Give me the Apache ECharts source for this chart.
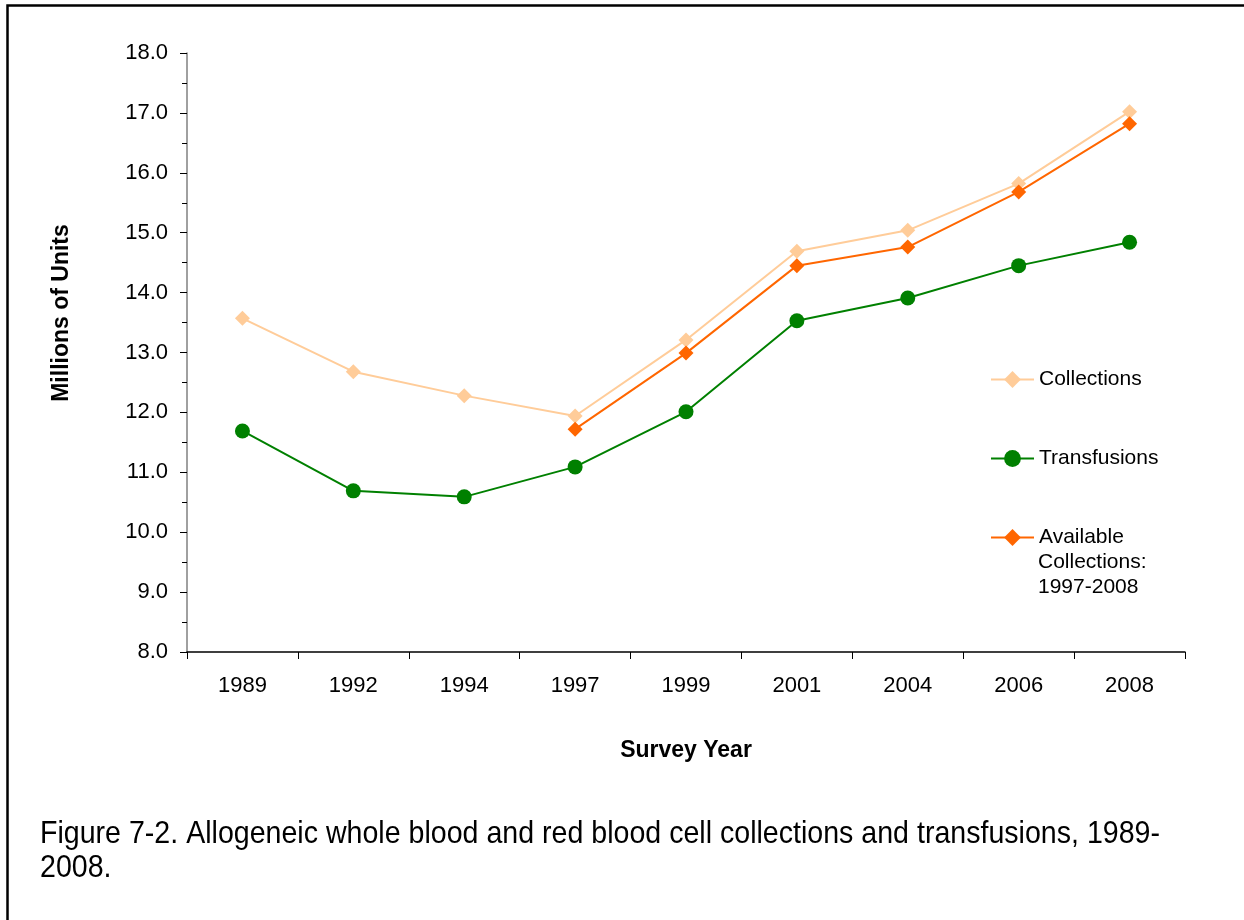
<!DOCTYPE html>
<html>
<head>
<meta charset="utf-8">
<script src="https://cdn.jsdelivr.net/npm/echarts@6/dist/echarts.min.js"></script>
<style>
  html, body { margin: 0; padding: 0; background: #fff; }
  #chart { width: 1244px; height: 920px; }
</style>
</head>
<body>
<div id="chart"></div>
<script>
// survey years and values (millions of units)
let years = ['1989', '1992', '1994', '1997', '1999', '2001', '2004', '2006', '2008'];
let collections = [13.57, 12.68, 12.28, 11.94, 13.21, 14.69, 15.04, 15.82, 17.02];
let transfusions = [11.69, 10.69, 10.59, 11.09, 12.01, 13.53, 13.91, 14.45, 14.84];
let available = [null, null, null, 11.72, 12.99, 14.45, 14.76, 15.68, 16.82];

let captionLines = ['Figure 7-2. Allogeneic whole blood and red blood cell collections and transfusions, 1989-', '2008.'];

let font = '"Liberation Sans", Arial, sans-serif';

// caption is a narrow face in the original: squeeze regular text to the same width
let capFont = '32px ' + font;
let ctx = document.createElement('canvas').getContext('2d');
ctx.font = capFont;
let capScale = 1120 / ctx.measureText(captionLines[0]).width;

let myChart = echarts.init(document.getElementById('chart'));

let legendBase = {
    orient: 'vertical',
    left: 990,
    padding: 0,
    itemWidth: 43,
    itemHeight: 21,
    textStyle: { fontFamily: font, fontSize: 21, color: '#000' },
    selectedMode: false
};

option = {
    animation: false,
    backgroundColor: '#fff',
    grid: { left: 187, right: 59, top: 53, bottom: 268 },
    legend: [
        Object.assign({}, legendBase, { top: 369, data: ['Collections'] }),
        Object.assign({}, legendBase, { top: 448, data: ['Transfusions'] }),
        Object.assign({}, legendBase, { top: 527, data: ['Available Collections: 1997-2008'], formatter: function () { return 'Available'; } })
    ],
    graphic: [
        {
            type: 'rect',
            left: 5, top: 3,
            shape: { width: 1300, height: 1000 },
            style: { fill: 'none', stroke: '#000', lineWidth: 2.5 },
            silent: true
        },
        {
            type: 'text',
            left: 1038, top: 550,
            style: { text: 'Collections:\n1997-2008', font: '21px ' + font, fill: '#000', lineHeight: 25 }
        },
        {
            // y axis title sits above the plot middle in the original
            type: 'text',
            x: 62, y: 313,
            rotation: Math.PI / 2,
            style: { text: 'Millions of Units', font: 'bold 23px ' + font, fill: '#000', align: 'center', verticalAlign: 'middle' }
        },
        {
            type: 'text',
            x: 40, y: 817,
            scaleX: capScale,
            style: { text: captionLines.join('\n'), font: capFont, fill: '#000', lineHeight: 34 }
        }
    ],
    xAxis: {
        type: 'category',
        data: years,
        boundaryGap: true,
        name: 'Survey Year',
        nameLocation: 'middle',
        nameGap: 87,
        nameTextStyle: { fontFamily: font, fontSize: 23, fontWeight: 'bold', color: '#000' },
        axisLine: { lineStyle: { color: '#000', width: 1.5 } },
        axisTick: { show: true, inside: false, length: 7, alignWithLabel: false, lineStyle: { color: '#000' } },
        axisLabel: { margin: 23, fontFamily: font, fontSize: 22, color: '#000' },
        splitLine: { show: false }
    },
    yAxis: {
        type: 'value',
        min: 8,
        max: 18,
        interval: 1,
        axisLine: { show: true, lineStyle: { color: '#808080', width: 1.5 } },
        axisTick: { show: true, inside: false, length: 7, lineStyle: { color: '#000' } },
        minorTick: { show: true, splitNumber: 2, length: 5, lineStyle: { color: '#000' } },
        axisLabel: {
            margin: 19, fontFamily: font, fontSize: 22, color: '#000',
            formatter: function (v) { return v.toFixed(1); }
        },
        splitLine: { show: false }
    },
    series: [
        {
            name: 'Collections',
            type: 'line',
            data: collections,
            symbol: 'diamond',
            symbolSize: 15,
            color: '#FFCC99',
            lineStyle: { width: 2, color: '#FFCC99' },
            itemStyle: { color: '#FFCC99' },
            z: 2
        },
        {
            name: 'Transfusions',
            type: 'line',
            data: transfusions,
            symbol: 'circle',
            symbolSize: 15,
            color: '#008000',
            lineStyle: { width: 2, color: '#008000' },
            itemStyle: { color: '#008000' },
            z: 3
        },
        {
            name: 'Available Collections: 1997-2008',
            type: 'line',
            data: available,
            symbol: 'diamond',
            symbolSize: 15,
            color: '#FF6600',
            lineStyle: { width: 2, color: '#FF6600' },
            itemStyle: { color: '#FF6600' },
            z: 4
        }
    ]
};
myChart.setOption(option);
</script>
</body>
</html>
